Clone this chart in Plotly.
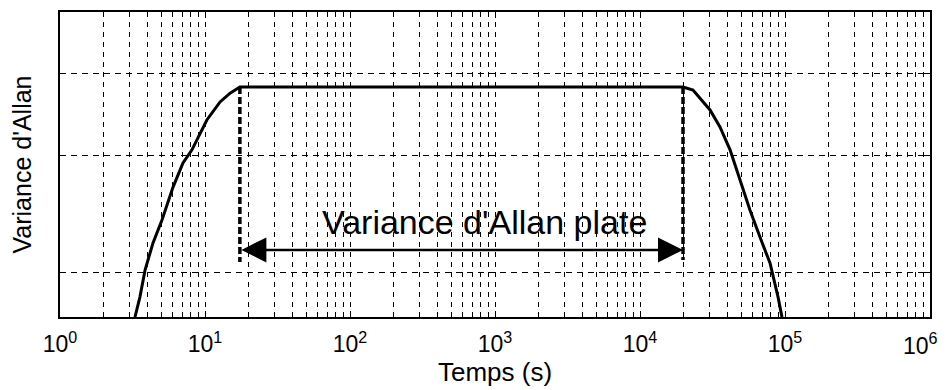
import numpy as np
import plotly.graph_objects as go

# rising side of the curve (tau in s, level in plot fraction)
tau_up = [3.29, 3.56, 3.86, 4.38, 5.05, 6.02, 7.05, 8.13, 10.3, 12.7, 14.9, 17.4]
var_up = [0.0, 0.066, 0.154, 0.243, 0.318, 0.426, 0.505, 0.548, 0.646, 0.705, 0.734, 0.754]

# falling side
tau_down = [19800, 23200, 30400, 35600, 41800, 48900, 57300, 67200, 78800, 89500, 95300]
var_down = [0.754, 0.744, 0.679, 0.623, 0.548, 0.449, 0.351, 0.262, 0.177, 0.066, 0.0]

tau_flat_start = 17.4
tau_flat_end = 19800
drop_left = 0.18
drop_right = 0.187
arrow_level = 0.22

y_grid = [0.1475, 0.528, 0.80]
x_ticks = [1, 10, 100, 1000, 10000, 100000, 1000000]
x_ticktext = ["10<sup>%d</sup>" % i for i in range(7)]
x_minor = [m * 10 ** d for d in range(6) for m in range(2, 10)]

font = "Arial, Liberation Sans, Helvetica, sans-serif"

tau = tau_up + tau_down
var = var_up + var_down

fig = go.Figure()

fig.add_trace(go.Scatter(x=tau, y=var, mode="lines",
                         line=dict(color="black", width=3)))

# thick dashed drops marking the flat region
for t, bottom in [(tau_flat_start, drop_left), (tau_flat_end, drop_right)]:
    fig.add_trace(go.Scatter(x=[t, t], y=[var_up[-1], bottom], mode="lines",
                             line=dict(color="black", width=3.5, dash="7px,3px")))

# double arrow
fig.add_annotation(x=np.log10(tau_flat_end), y=arrow_level,
                   ax=np.log10(tau_flat_start), ay=arrow_level,
                   xref="x", yref="y", axref="x", ayref="y",
                   text="", showarrow=True, arrowside="end+start",
                   arrowhead=2, arrowsize=2, arrowwidth=2.5, arrowcolor="black",
                   standoff=0, startstandoff=0)

fig.add_annotation(x=np.log10(850), y=0.31, text="Variance d'Allan plate",
                   showarrow=False, font=dict(family=font, size=34, color="black"))

# last tick label would run past the right edge: drawn right-aligned instead
fig.add_annotation(x=1.0115, y=0, xref="paper", yref="paper",
                   xanchor="right", yanchor="top", yshift=-10,
                   text=x_ticktext[-1], showarrow=False,
                   font=dict(family=font, size=23, color="black"))
tick_labels = x_ticktext[:-1] + [""]

# page body keeps an 8px margin, so the figure is sized to fit inside the window
fig.update_layout(
    width=941, height=382,
    margin=dict(l=52, r=19, t=4, b=73),
    paper_bgcolor="white", plot_bgcolor="white",
    showlegend=False,
    font=dict(family=font, color="black"),
)

fig.update_xaxes(
    type="log", range=[0, 6], automargin=False,
    tickvals=x_ticks, ticktext=tick_labels,
    tickfont=dict(size=23), ticklabelstandoff=6,
    ticks="inside", ticklen=6, tickcolor="black",
    showline=True, linecolor="black", linewidth=1.5, mirror="ticks",
    showgrid=True, gridcolor="black", gridwidth=1, griddash="5px,5px",
    minor=dict(tickvals=x_minor, ticks="inside", ticklen=4, tickcolor="black",
               showgrid=True, gridcolor="black", gridwidth=1, griddash="5px,5px"),
    title=dict(text="Temps (s)", font=dict(size=26), standoff=4),
    zeroline=False,
)

fig.update_yaxes(
    range=[0, 1], automargin=False,
    tickvals=y_grid, showticklabels=False,
    ticks="inside", ticklen=6, tickcolor="black",
    showline=True, linecolor="black", linewidth=1.5, mirror="ticks",
    showgrid=True, gridcolor="black", gridwidth=1, griddash="6px,5px",
    title=dict(text="Variance d'Allan", font=dict(size=25), standoff=20),
    zeroline=False,
)

fig.write_html("out.html")
